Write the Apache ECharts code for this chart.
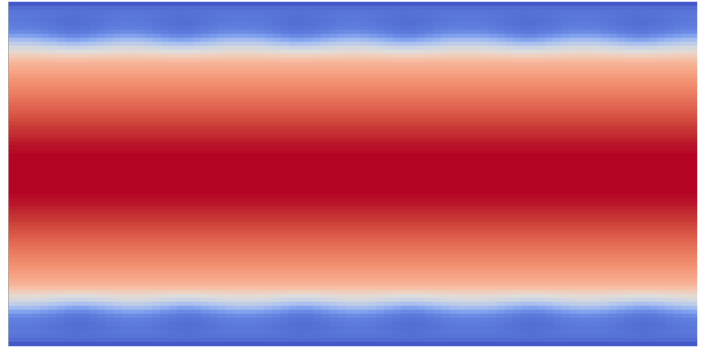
<!DOCTYPE html>
<html>
<head>
<meta charset="utf-8">
<script src="https://cdn.jsdelivr.net/npm/echarts@6/dist/echarts.min.js"></script>
<style>
  html, body { margin: 0; padding: 0; background: #ffffff; }
  #chart { width: 701px; height: 351px; }
</style>
</head>
<body>
<div id="chart"></div>
<script>
// Channel flow field: normalised velocity, 86 columns x 86 rows (row 0 at the top wall).

// Near-wall rows 0..14 at the top wall, between streaks and under a streak.
const topWallTrough = [0.03, 0.08, 0.10, 0.11, 0.11, 0.12, 0.13, 0.16, 0.22, 0.30, 0.38, 0.46, 0.53, 0.59, 0.64];
const topWallCrest  = [0.03, 0.08, 0.09, 0.09, 0.085, 0.085, 0.095, 0.11, 0.15, 0.22, 0.31, 0.41, 0.50, 0.58, 0.64];

// Core rows 15..70.
const coreProfile = [
  0.68, 0.705, 0.725, 0.745, 0.765, 0.78, 0.795, 0.81, 0.825, 0.84, 0.855, 0.87, 0.885, 0.90,
  0.915, 0.93, 0.945, 0.955, 0.965, 0.975, 0.985, 0.99, 0.995, 1.00, 1.00, 1.00, 1.00, 1.00,
  1.00, 1.00, 1.00, 1.00, 1.00, 0.995, 0.99, 0.985, 0.975, 0.965, 0.955, 0.945, 0.93, 0.915,
  0.90, 0.885, 0.87, 0.855, 0.84, 0.825, 0.81, 0.795, 0.78, 0.765, 0.745, 0.725, 0.705, 0.68
];

// Near-wall rows 71..85 at the bottom wall.
const bottomWallTrough = [0.64, 0.59, 0.53, 0.46, 0.38, 0.30, 0.22, 0.16, 0.13, 0.12, 0.11, 0.11, 0.10, 0.08, 0.03];
const bottomWallCrest  = [0.64, 0.58, 0.50, 0.41, 0.31, 0.22, 0.15, 0.11, 0.095, 0.085, 0.085, 0.09, 0.09, 0.08, 0.03];

// Streak strength per column (0 = between streaks, 1 = streak centre).
const topStreaks = [
  0.00, 0.00, 0.05, 0.20, 0.40, 0.60, 0.80, 0.97, 1.00, 0.90, 0.70, 0.50, 0.30, 0.12, 0.02,
  0.03, 0.15, 0.32, 0.52, 0.72, 0.90, 1.00, 0.95, 0.78, 0.58, 0.38, 0.18, 0.05, 0.00, 0.00,
  0.05, 0.18, 0.38, 0.58, 0.78, 0.95, 1.00, 0.90, 0.72, 0.52, 0.32, 0.15, 0.03, 0.02, 0.12,
  0.30, 0.50, 0.70, 0.90, 1.00, 0.97, 0.80, 0.60, 0.40, 0.20, 0.05, 0.00, 0.00, 0.02, 0.10,
  0.28, 0.48, 0.68, 0.87, 1.00, 0.97, 0.83, 0.63, 0.42, 0.22, 0.07, 0.00, 0.02, 0.10, 0.28,
  0.48, 0.68, 0.87, 1.00, 0.97, 0.83, 0.63, 0.42, 0.22, 0.07, 0.00
];
const bottomStreaks = [
  0.00, 0.00, 0.02, 0.12, 0.30, 0.50, 0.70, 0.90, 1.00, 0.97, 0.80, 0.60, 0.40, 0.20, 0.05,
  0.00, 0.05, 0.20, 0.40, 0.60, 0.80, 0.97, 1.00, 0.90, 0.70, 0.50, 0.30, 0.12, 0.02, 0.00,
  0.02, 0.12, 0.30, 0.50, 0.70, 0.90, 1.00, 0.97, 0.80, 0.60, 0.40, 0.20, 0.05, 0.00, 0.05,
  0.20, 0.40, 0.60, 0.80, 0.97, 1.00, 0.90, 0.70, 0.50, 0.30, 0.12, 0.02, 0.00, 0.00, 0.05,
  0.18, 0.38, 0.58, 0.78, 0.95, 1.00, 0.90, 0.72, 0.52, 0.32, 0.15, 0.03, 0.00, 0.05, 0.18,
  0.38, 0.58, 0.78, 0.95, 1.00, 0.90, 0.72, 0.52, 0.32, 0.15, 0.03
];

// Cool-to-warm diverging colour table (slightly muted around the neutral point).
const coolWarm = [
  '#3b4cc0', '#4458c8', '#4d65cf', '#5672d6', '#5f7edd', '#6a8ae4', '#7596ea', '#82a2ee',
  '#90aef0', '#9db7f0', '#a9c0ef', '#b4c7ec', '#bfcde8', '#c9d2e4', '#d1d6e0', '#d8d9dc',
  '#dddddd', '#e5d8d1', '#ecd3c5', '#f1ccb9', '#f5c4ad', '#f7bba0', '#f7b194', '#f7a687',
  '#f49a7b', '#f18d6f', '#ec7f63', '#e57058', '#de604d', '#d55042', '#cb3e38', '#c0282f',
  '#b40426'
];

const nCols = topStreaks.length;
const nRows = topWallTrough.length + coreProfile.length + bottomWallTrough.length;
const topEnd = topWallTrough.length;
const bottomStart = topEnd + coreProfile.length;

const xCats = [];
for (let c = 0; c < nCols; c++) xCats.push(String(c));
const yCats = [];
for (let r = 0; r < nRows; r++) yCats.push(String(r));

const cells = [];
for (let r = 0; r < nRows; r++) {
  for (let c = 0; c < nCols; c++) {
    let v;
    if (r < topEnd) {
      const w = topStreaks[c];
      v = topWallTrough[r] * (1 - w) + topWallCrest[r] * w;
    } else if (r >= bottomStart) {
      const k = r - bottomStart;
      const w = bottomStreaks[c];
      v = bottomWallTrough[k] * (1 - w) + bottomWallCrest[k] * w;
    } else {
      v = coreProfile[r - topEnd];
    }
    cells.push([c, r, v]);
  }
}

const chart = echarts.init(document.getElementById('chart'), null, { renderer: 'canvas' });
chart.setOption({
  animation: false,
  backgroundColor: '#ffffff',
  grid: { left: 9, top: 2, width: 688, height: 344, containLabel: false },
  xAxis: {
    type: 'category', data: xCats, show: false
  },
  yAxis: {
    type: 'category', data: yCats, inverse: true, offset: 1,
    axisLine: { show: true, lineStyle: { color: '#aaaaaa', width: 1 } },
    axisTick: { show: false }, axisLabel: { show: false }, splitLine: { show: false }
  },
  visualMap: {
    show: false, type: 'continuous', min: 0, max: 1, dimension: 2,
    inRange: { color: coolWarm }
  },
  series: [{
    type: 'heatmap',
    data: cells,
    progressive: 0,
    itemStyle: { borderWidth: 0 },
    emphasis: { disabled: true }
  }]
});
</script>
</body>
</html>
